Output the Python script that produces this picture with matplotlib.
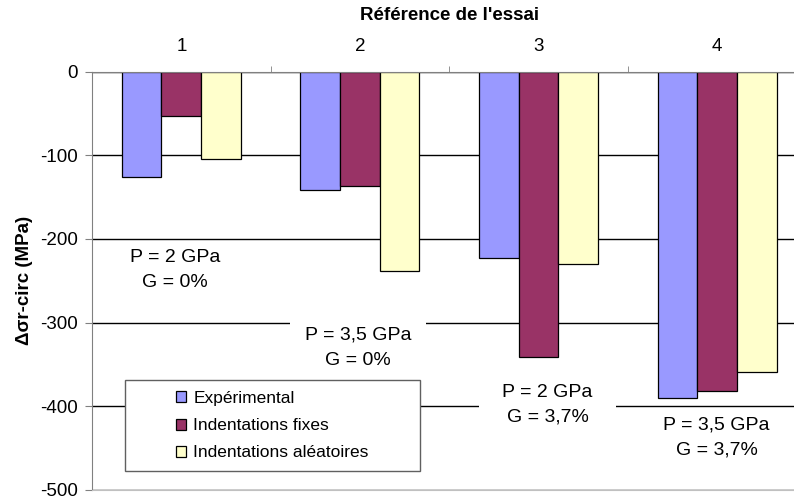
import numpy as np
import matplotlib.pyplot as plt
from matplotlib.patches import Rectangle

plt.rcParams['font.family'] = ['Liberation Sans', 'DejaVu Sans']
plt.rcParams['axes.unicode_minus'] = False

# Essais 1 a 4 : variation de contrainte circonferentielle (MPa)
essais = ['1', '2', '3', '4']
experimental = [-126, -141, -223, -390]
indent_fixes = [-53, -137, -341, -382]
indent_aleatoires = [-104, -238, -230, -359]
series_labels = ['Expérimental', 'Indentations fixes', 'Indentations aléatoires']
conditions = ['P = 2 GPa\nG = 0%', 'P = 3,5 GPa\nG = 0%',
              'P = 2 GPa\nG = 3,7%', 'P = 3,5 GPa\nG = 3,7%']

colors = ['#9999FF', '#993366', '#FFFFCC']
fs = 13.5

fig = plt.figure(figsize=(7.94, 5.0), dpi=100)
ax = fig.add_axes([92 / 794, 10 / 500, 714.5 / 794, 418.5 / 500])

x = np.arange(len(essais))
w = 0.222
for i, (vals, c) in enumerate(zip([experimental, indent_fixes, indent_aleatoires], colors)):
    ax.bar(x + (i - 1) * w, vals, w, color=c, edgecolor='black', linewidth=0.9,
           label=series_labels[i], zorder=2)

ax.set_xlim(-0.5, 3.5)
ax.set_ylim(-500, 0)
ax.set_yticks([0, -100, -200, -300, -400, -500])
ax.yaxis.grid(True, color='black', linewidth=1.0, zorder=0)
ax.set_axisbelow(True)

# category axis on top, ticks between groups
ax.xaxis.tick_top()
ax.set_xticks(x)
ax.set_xticklabels(essais, fontsize=fs)
ax.tick_params(axis='x', which='major', length=0, pad=12)
ax.set_xticks(x[:-1] + 0.5, minor=True)
ax.tick_params(axis='x', which='minor', length=4, direction='out', color='#808080', top=True)
ax.tick_params(axis='y', length=5, pad=5, labelsize=fs, color='#808080')
ax.xaxis.set_label_position('top')
ax.set_xlabel("Référence de l'essai", fontsize=fs, fontweight='bold', labelpad=13)
ax.set_ylabel('Δσr-circ (MPa)', fontsize=fs, fontweight='bold', labelpad=5)

ax.spines['right'].set_visible(False)
ax.spines['left'].set_color('#808080')
ax.spines['top'].set_color('#808080')
ax.spines['bottom'].set_color('#C0C0C0')

# test conditions labels on fixed-size white boxes that break the grid lines
label_pos = [(-0.035, -237), (0.99, -330), (2.05, -398), (2.996, -437)]
box_w, box_h = 0.762, 62
for (lx, ly), txt in zip(label_pos, conditions):
    ax.add_patch(Rectangle((lx - box_w / 2, ly - box_h / 2), box_w, box_h,
                           facecolor='white', edgecolor='none', zorder=2.5))
    ax.text(lx, ly, txt, ha='center', va='center', fontsize=14, linespacing=1.6, zorder=3)

# legend with a framed box
ax.add_patch(Rectangle((0.046, 0.045), 0.413, 0.217, transform=ax.transAxes,
                       facecolor='white', edgecolor='#606060', linewidth=1.0, zorder=4))
leg = ax.legend(loc='center', bbox_to_anchor=(0.046 + 0.413 / 2, 0.045 + 0.217 / 2),
                frameon=False, fontsize=12.5, handlelength=0.6, handleheight=0.6,
                handletextpad=0.4, labelspacing=0.7)
leg.set_zorder(5)

fig.savefig('out.png', dpi=100)
